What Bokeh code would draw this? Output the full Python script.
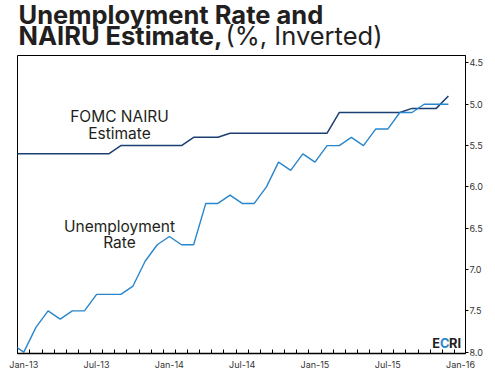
from bokeh.plotting import figure
from bokeh.models import Range1d, FixedTicker, Label
from bokeh.layouts import column
from bokeh.core.properties import value
from bokeh.embed import file_html
from bokeh.resources import INLINE

# ---- data (monthly, Dec-2012 .. Dec-2015) ----
month_index = list(range(-1, 36))  # 0 = Jan-13
unemployment = [7.9,
                8.0, 7.7, 7.5, 7.6, 7.5, 7.5, 7.3, 7.3, 7.3, 7.2, 6.9, 6.7,
                6.6, 6.7, 6.7, 6.2, 6.2, 6.1, 6.2, 6.2, 6.0, 5.7, 5.8, 5.6,
                5.7, 5.5, 5.5, 5.4, 5.5, 5.3, 5.3, 5.1, 5.1, 5.0, 5.0, 5.0]
nairu = [5.6,
         5.6, 5.6, 5.6, 5.6, 5.6, 5.6, 5.6, 5.6, 5.5, 5.5, 5.5, 5.5,
         5.5, 5.5, 5.4, 5.4, 5.4, 5.35, 5.35, 5.35, 5.35, 5.35, 5.35, 5.35,
         5.35, 5.35, 5.1, 5.1, 5.1, 5.1, 5.1, 5.1, 5.05, 5.05, 5.05, 4.9]
x_tick_pos = [0, 6, 12, 18, 24, 30, 36]
x_tick_labels = ["Jan-13", "Jul-13", "Jan-14", "Jul-14", "Jan-15", "Jul-15", "Jan-16"]
y_ticks = [4.5, 5.0, 5.5, 6.0, 6.5, 7.0, 7.5, 8.0]
title_line1 = "Unemployment Rate and"
title_line2 = "NAIRU Estimate,"
title_unit = "(%, Inverted)"

BLUE = "#2a86cc"
NAVY = "#1b3f72"
DARK = "#231f20"
FONT = "Inter"

W = 495
TITLE_H = 54
BL, BR = 17, 30          # left / right borders shared by both figures

# ---------------- title strip ----------------
t = figure(width=W, height=TITLE_H, output_backend="svg", toolbar_location=None,
           x_range=Range1d(BL, W - BR), y_range=Range1d(TITLE_H, 0),
           x_axis_location=None, y_axis_location=None, title=None,
           min_border_left=BL, min_border_right=BR, min_border_top=0, min_border_bottom=0,
           outline_line_color=None)
t.grid.visible = False
t.text(x=[18, 18], y=[13.5, 34.8], text=[title_line1, title_line2],
       text_font=value(FONT), text_font_size="25.5px", text_font_style="bold",
       text_color=DARK, text_baseline="middle", text_align="left")
t.text(x=[225], y=[34.8], text=[title_unit],
       text_font=value(FONT), text_font_size="25.5px", text_font_style="normal",
       text_color=DARK, text_baseline="middle", text_align="left")

# ---------------- main chart ----------------
FL, FR, FT, FB = 17.0, 465.0, 55.0, 353.0   # frame edges on the page
X0, X1 = -0.52, 36.41
Y0, Y1 = 8.016, 4.41

p = figure(width=W, height=375 - TITLE_H, output_backend="svg", toolbar_location=None,
           x_range=Range1d(X0, X1), y_range=Range1d(Y0, Y1),
           y_axis_location="right", title=None,
           min_border_left=BL, min_border_right=BR, min_border_top=1, min_border_bottom=22)
p.outline_line_color = "black"
p.outline_line_width = 1
p.xgrid.visible = False
p.ygrid.visible = False

p.line(month_index, nairu, line_color=NAVY, line_width=1.5)
p.line(month_index, unemployment, line_color=BLUE, line_width=1.4)

xa = p.xaxis[0]
xa.ticker = FixedTicker(ticks=x_tick_pos, minor_ticks=[m + 0.5 for m in month_index])
xa.major_label_overrides = {tk: l for tk, l in zip(x_tick_pos, x_tick_labels)}
xa.major_tick_in = 0
xa.major_tick_out = 0
xa.minor_tick_in = 4
xa.minor_tick_out = 0
xa.minor_tick_line_color = "black"
xa.axis_line_color = "black"
xa.axis_line_width = 1.5
xa.major_label_standoff = 5
xa.major_label_text_font = FONT
xa.major_label_text_font_size = "9px"
xa.major_label_text_color = "#333333"

ya = p.yaxis[0]
ya.ticker = FixedTicker(ticks=y_ticks)
ya.major_label_overrides = {tk: f"{tk:.1f}" for tk in y_ticks}
ya.major_tick_in = 0
ya.major_tick_out = 3
ya.minor_tick_in = 0
ya.minor_tick_out = 0
ya.axis_line_color = "black"
ya.major_label_standoff = 1
ya.major_label_text_font = FONT
ya.major_label_text_font_size = "9px"
ya.major_label_text_color = "#333333"

# helpers: page pixel -> data coordinate (text placement only)
def dx(px):
    return X0 + (px - FL) / (FR - FL) * (X1 - X0)
def dy(py):
    return Y1 + (py - FT) / (FB - FT) * (Y0 - Y1)

def lab(text, px, py, size, color=DARK, align="left", style="normal"):
    p.add_layout(Label(x=dx(px), y=dy(py), text=text, text_font=FONT,
                       text_font_size=size, text_color=color, text_align=align,
                       text_baseline="middle", text_font_style=style))

# annotations
lab("FOMC NAIRU", 119, 116, "15.5px", align="center")
lab("Estimate", 119, 132.7, "15.5px", align="center")
lab("Unemployment", 119, 226, "15.5px", align="center")
lab("Rate", 119, 241.7, "15.5px", align="center")

# ECRI mark
lab("E", 431.7, 342.5, "12.8px", style="bold")
lab("C", 439.4, 342.5, "12.8px", color=BLUE, style="bold")
lab("RI", 448.6, 342.5, "12.8px", style="bold")

layout = column(t, p, spacing=0)
open("out.html", "w").write(file_html(layout, INLINE))
